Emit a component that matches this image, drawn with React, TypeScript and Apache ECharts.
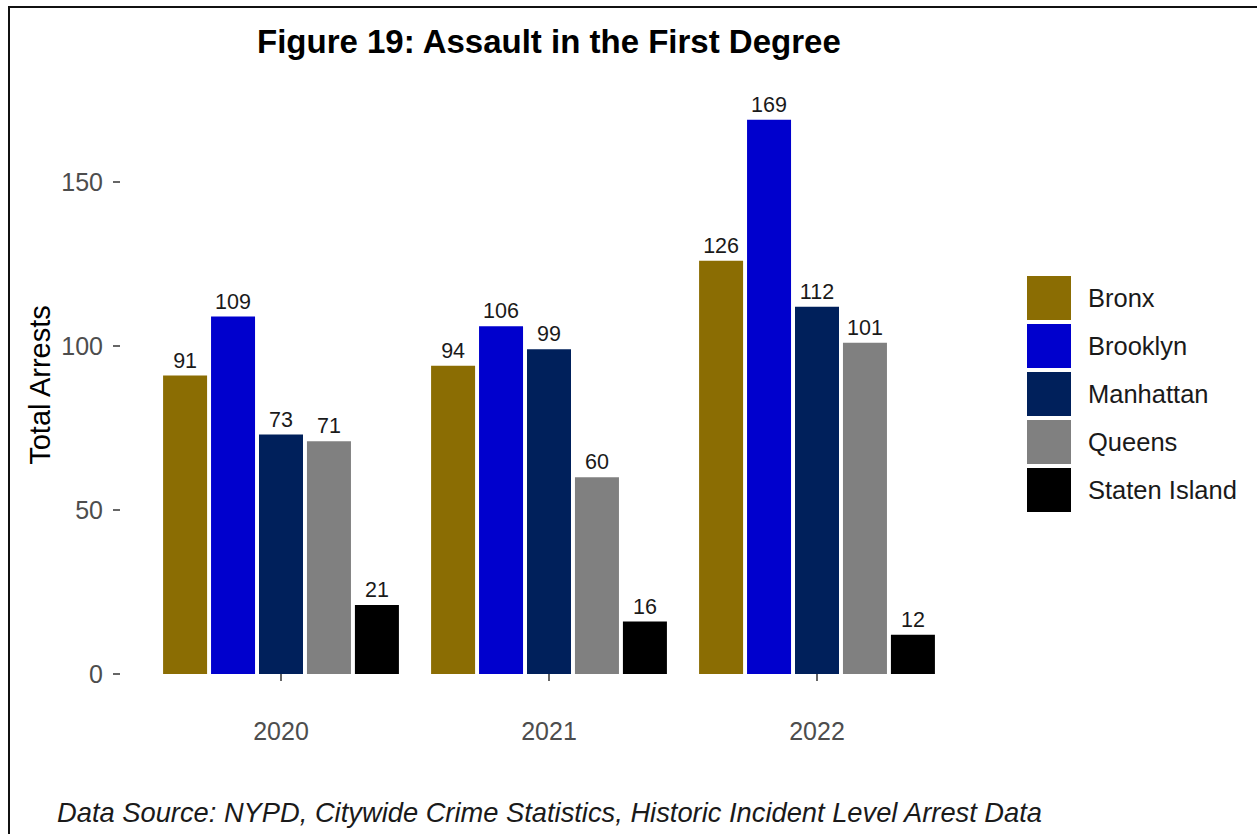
import React, { useEffect, useRef } from "react";
import * as echarts from "echarts";

const years = ["2020", "2021", "2022"];
const boroughs = ["Bronx", "Brooklyn", "Manhattan", "Queens", "Staten Island"];
const bronx = [91, 94, 126];
const brooklyn = [109, 106, 169];
const manhattan = [73, 99, 112];
const queens = [71, 60, 101];
const statenIsland = [21, 16, 12];
const colors = ["#8B6D03", "#0000CD", "#00205B", "#808080", "#000000"];
const yTicks = [0, 50, 100, 150];
const titleText = "Figure 19: Assault in the First Degree";
const yTitle = "Total Arrests";
const caption = "Data Source: NYPD, Citywide Crime Statistics, Historic Incident Level Arrest Data";

const FONT = "'Liberation Sans', Arial, sans-serif";

export default function App() {
  const ref = useRef<HTMLDivElement>(null);
  useEffect(() => {
    if (!ref.current) return;
    const chart = echarts.init(ref.current, null, { renderer: "svg" });
    const values = [bronx, brooklyn, manhattan, queens, statenIsland];
    chart.setOption({
      animation: false,
      backgroundColor: "#ffffff",
      textStyle: { fontFamily: FONT },
      grid: { left: 147, right: 306, top: 92, bottom: 160, containLabel: false },
      legend: {
        orient: "vertical",
        left: 1027,
        top: 276,
        padding: 0,
        itemWidth: 44,
        itemHeight: 44,
        itemGap: 4,
        icon: "rect",
        data: boroughs,
        textStyle: { fontSize: 25.5, color: "#1a1a1a", fontFamily: FONT, padding: [14, 0, 0, 12] },
      },
      xAxis: {
        type: "category",
        data: years,
        offset: 28,
        axisLine: { show: false },
        axisTick: { show: true, alignWithLabel: true, length: 7, lineStyle: { color: "#333333", width: 1.5 } },
        axisLabel: { fontSize: 25, color: "#4d4d4d", margin: 16, fontFamily: FONT },
        splitLine: { show: false },
      },
      yAxis: {
        type: "value",
        min: 0,
        max: 177.45,
        offset: 27,
        axisLine: { show: false },
        axisTick: { show: true, length: 7, lineStyle: { color: "#333333", width: 1.5 }, customValues: yTicks },
        axisLabel: { fontSize: 25, color: "#4d4d4d", margin: 17, fontFamily: FONT, customValues: yTicks },
        splitLine: { show: false },
      },
      series: boroughs.map((name, i) => ({
        name,
        type: "bar",
        data: values[i],
        barWidth: 44,
        barGap: "9%",
        itemStyle: { color: colors[i] },
        label: {
          show: true,
          position: "top",
          distance: 4,
          fontSize: 21.5,
          color: "#1a1a1a",
          fontFamily: FONT,
        },
      })),
      graphic: [
        { type: "rect", left: 8, top: 6, shape: { width: 1249, height: 2 }, style: { fill: "#111" } },
        { type: "rect", left: 8, top: 6, shape: { width: 2, height: 828 }, style: { fill: "#111" } },
        {
          type: "text",
          x: 257,
          y: 41,
          style: { text: titleText, font: `bold 33px ${FONT}`, fill: "#000", verticalAlign: "middle", align: "left" },
        },
        {
          type: "text",
          x: 40,
          y: 385,
          rotation: Math.PI / 2,
          style: { text: yTitle, font: `29px ${FONT}`, fill: "#000", verticalAlign: "middle", align: "center" },
        },
        {
          type: "text",
          x: 57,
          y: 812,
          style: { text: caption, font: `italic 27.3px ${FONT}`, fill: "#1a1a1a", verticalAlign: "middle", align: "left" },
        },
      ],
    });
    return () => chart.dispose();
  }, []);
  return <div ref={ref} style={{ position: "fixed", left: 0, top: 0, width: 1257, height: 834 }} />;
}
